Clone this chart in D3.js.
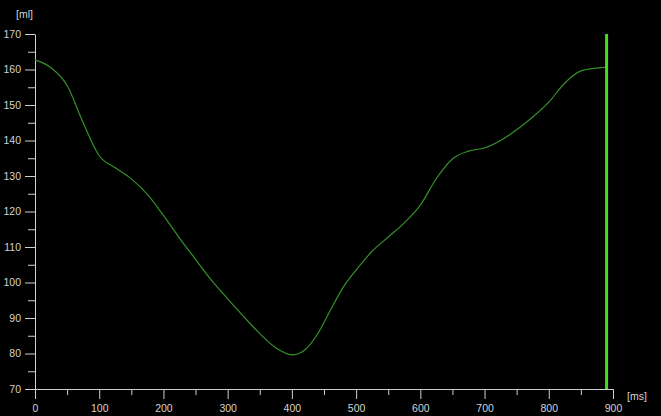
<!DOCTYPE html>
<html>
<head>
<meta charset="utf-8">
<script src="https://cdn.jsdelivr.net/npm/d3@7/dist/d3.min.js"></script>
<style>
  html, body { margin: 0; padding: 0; background: #000; }
  svg { display: block; }
  .axis text { fill: #d4d4d4; font-family: "Liberation Sans", Arial, sans-serif; font-size: 10.5px; }
  .axis path, .axis line { stroke: #d0d0d0; }
</style>
</head>
<body>
<svg id="chart" width="661" height="416"></svg>
<script>
// Volume curve over one cardiac cycle
const timeMs = [0, 25, 50, 75, 100, 125, 150, 175, 200, 225, 250, 275, 300, 325, 350, 375, 400,
                420, 440, 460, 480, 500, 525, 550, 575, 600, 625, 650, 675, 700, 725, 750, 775,
                800, 825, 850, 875, 888];
const volumeMl = [162.7, 160.5, 155.5, 145.0, 135.7, 132.3, 129.2, 124.8, 118.9, 112.5, 106.5, 100.6,
                  95.4, 90.4, 85.6, 81.6, 79.6, 81.0, 85.5, 92.2, 98.7, 103.5, 108.8, 112.8, 116.8,
                  121.8, 129.3, 134.8, 137.0, 137.9, 140.0, 143.0, 146.6, 150.8, 156.2, 159.6, 160.4, 160.6];
const markerMs = 890;

const xTicksMajor = [0, 100, 200, 300, 400, 500, 600, 700, 800, 900];
const xTicksMinor = [50, 150, 250, 350, 450, 550, 650, 750, 850];
const yTicksMajor = [70, 80, 90, 100, 110, 120, 130, 140, 150, 160, 170];
const yTicksMinor = [75, 85, 95, 105, 115, 125, 135, 145, 155, 165];

const svg = d3.select("#chart");
const x = d3.scaleLinear().domain([0, 900]).range([35, 613]);
const y = d3.scaleLinear().domain([70, 170]).range([389, 34]);

// minor ticks
svg.append("g").attr("class", "axis").attr("transform", "translate(0,389)")
  .call(d3.axisBottom(x).tickValues(xTicksMinor).tickSize(6).tickFormat(""))
  .call(g => g.select(".domain").remove());
svg.append("g").attr("class", "axis").attr("transform", "translate(35,0)")
  .call(d3.axisLeft(y).tickValues(yTicksMinor).tickSize(7).tickFormat(""))
  .call(g => g.select(".domain").remove());

// major ticks and labels
svg.append("g").attr("class", "axis").attr("transform", "translate(0,389)")
  .call(d3.axisBottom(x).tickValues(xTicksMajor).tickSize(10).tickSizeOuter(0).tickPadding(3))
  .call(g => g.selectAll("text").attr("dy", "0.95em"));
svg.append("g").attr("class", "axis").attr("transform", "translate(35,0)")
  .call(d3.axisLeft(y).tickValues(yTicksMajor).tickSize(10).tickSizeOuter(0).tickPadding(4));

// unit labels
svg.append("text").attr("x", 16).attr("y", 18).attr("fill", "#d4d4d4")
  .style("font-family", "Liberation Sans, Arial, sans-serif").style("font-size", "10.5px").text("[ml]");
svg.append("text").attr("x", 627).attr("y", 400).attr("fill", "#d4d4d4")
  .style("font-family", "Liberation Sans, Arial, sans-serif").style("font-size", "10.5px").text("[ms]");

// volume curve
const data = timeMs.map((t, i) => ({ t, v: volumeMl[i] }));
svg.append("path").datum(data)
  .attr("fill", "none")
  .attr("stroke", "#35902a")
  .attr("stroke-width", 1.2)
  .attr("d", d3.line().x(d => x(d.t)).y(d => y(d.v)).curve(d3.curveMonotoneX));

// current-time marker
svg.append("line")
  .attr("x1", x(markerMs)).attr("x2", x(markerMs))
  .attr("y1", y(170)).attr("y2", y(70))
  .attr("stroke", "#44dd22").attr("stroke-width", 3);
</script>
</body>
</html>
